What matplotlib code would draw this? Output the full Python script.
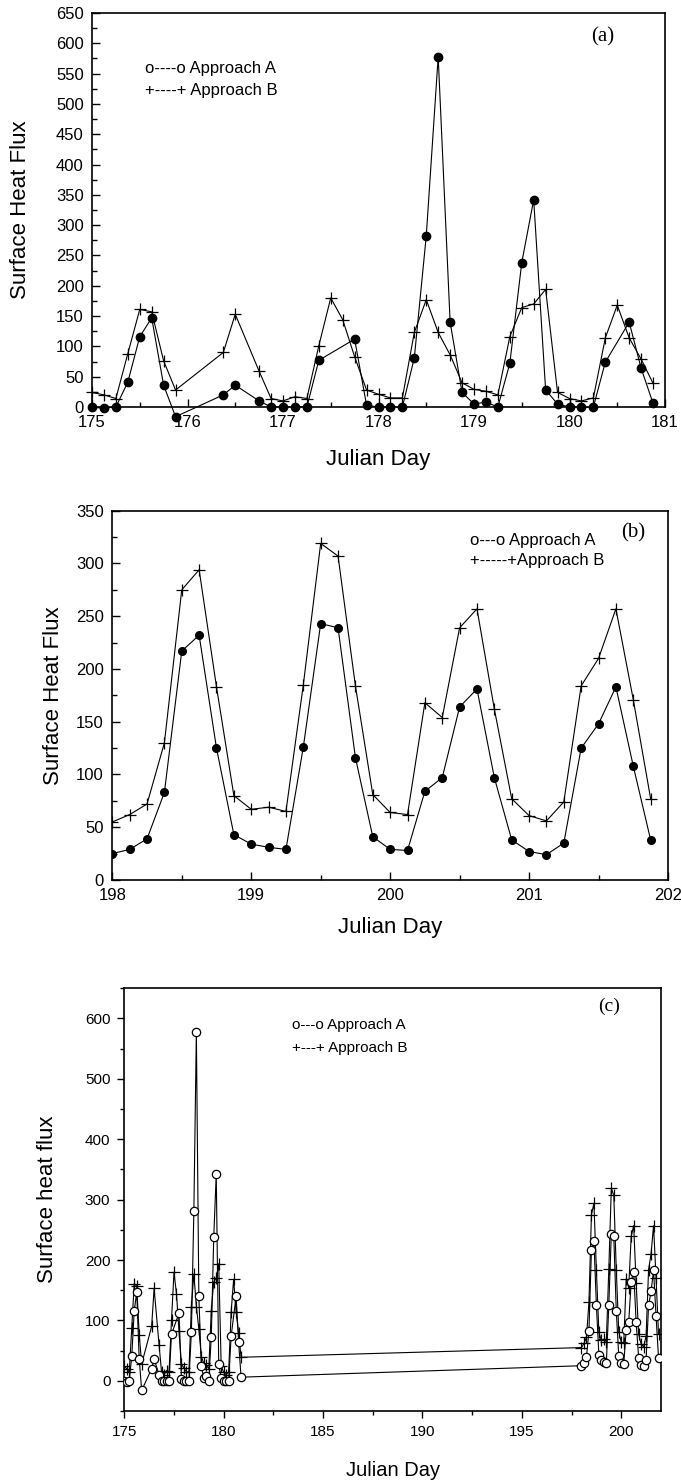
import matplotlib
matplotlib.use("Agg")
import matplotlib.pyplot as plt
from matplotlib.ticker import MultipleLocator

plt.rcParams['font.family'] = ['Liberation Sans', 'DejaVu Sans']

# ---------------- data ----------------
# Panel (a): Julian days 175-181
a_days_A = [175.0, 175.125, 175.25, 175.375, 175.5, 175.625, 175.75, 175.875,
            176.375, 176.5, 176.75, 176.875, 177.0, 177.125, 177.25, 177.375,
            177.75, 177.875, 178.0, 178.125, 178.25, 178.375, 178.5, 178.625,
            178.75, 178.875, 179.0, 179.125, 179.25, 179.375, 179.5, 179.625,
            179.75, 179.875, 180.0, 180.125, 180.25, 180.375, 180.625, 180.75,
            180.875]
a_flux_A = [0, -2, 0, 41, 116, 147, 36, -16,
            20, 36, 10, 0, 0, 0, 0, 77,
            112, 3, 0, 0, 0, 81, 282, 578,
            140, 24, 5, 8, 0, 72, 238, 342,
            28, 5, 0, 0, 0, 74, 140, 64,
            6]
a_days_B = [175.0, 175.125, 175.25, 175.375, 175.5, 175.625, 175.75, 175.875,
            176.375, 176.5, 176.75, 176.875, 177.0, 177.125, 177.25, 177.375,
            177.5, 177.625, 177.75, 177.875, 178.0, 178.125, 178.25, 178.375,
            178.5, 178.625, 178.75, 178.875, 179.0, 179.125, 179.25, 179.375,
            179.5, 179.625, 179.75, 179.875, 180.0, 180.125, 180.25, 180.375,
            180.5, 180.625, 180.75, 180.875]
a_flux_B = [24, 20, 14, 88, 161, 157, 76, 28,
            90, 153, 59, 14, 10, 17, 14, 101,
            180, 144, 83, 28, 21, 15, 15, 123,
            177, 123, 86, 40, 29, 26, 20, 116,
            164, 170, 194, 24, 14, 10, 15, 114,
            168, 114, 79, 39]

# Panel (b): Julian days 198-202
b_days = [198.0, 198.125, 198.25, 198.375, 198.5, 198.625, 198.75, 198.875,
          199.0, 199.125, 199.25, 199.375, 199.5, 199.625, 199.75, 199.875,
          200.0, 200.125, 200.25, 200.375, 200.5, 200.625, 200.75, 200.875,
          201.0, 201.125, 201.25, 201.375, 201.5, 201.625, 201.75, 201.875]
b_flux_A = [25, 29, 39, 83, 217, 232, 125, 43,
            34, 31, 29, 126, 243, 239, 116, 41,
            29, 28, 84, 97, 164, 181, 97, 38,
            27, 24, 35, 125, 148, 183, 108, 38]
b_flux_B = [55, 62, 72, 130, 275, 294, 183, 80,
            67, 69, 65, 185, 319, 307, 184, 81,
            64, 62, 168, 154, 239, 257, 162, 77,
            61, 56, 74, 184, 210, 257, 171, 77]

# Panel (c): both periods joined
c_days_A = a_days_A + b_days
c_flux_A = a_flux_A + b_flux_A
c_days_B = a_days_B + b_days
c_flux_B = a_flux_B + b_flux_B

legend_A = "Approach A"
legend_B = "Approach B"

# ---------------- figure ----------------
W, H = 681, 1483
fig = plt.figure(figsize=(W / 100, H / 100), dpi=100)


def rect(l, t, r, b):
    return [l / W, 1 - b / H, (r - l) / W, (b - t) / H]


def ftext(px, py, s, **kw):
    fig.text(px / W, 1 - py / H, s, **kw)


def style(ax, direction, lsize, pad, mlen, nlen):
    for sp in ax.spines.values():
        sp.set_linewidth(1.2)
    ax.tick_params(which='both', direction=direction, top=False, right=False,
                   labelsize=lsize, pad=pad, width=1.0)
    ax.tick_params(which='major', length=mlen)
    ax.tick_params(which='minor', length=nlen)


line_kw = dict(color='black', lw=0.8)

# ----- panel (a) -----
axa = fig.add_axes(rect(92, 13, 665, 407))
axa.plot(a_days_B, a_flux_B, marker='+', ms=8, mew=0.9, clip_on=False, **line_kw)
axa.plot(a_days_A, a_flux_A, marker='o', ms=6, mfc='black', mec='black',
         clip_on=False, zorder=3, **line_kw)
axa.set_xlim(175, 181)
axa.set_ylim(0, 650)
axa.xaxis.set_major_locator(MultipleLocator(1))
axa.xaxis.set_minor_locator(MultipleLocator(0.5))
axa.yaxis.set_major_locator(MultipleLocator(50))
axa.yaxis.set_minor_locator(MultipleLocator(25))
style(axa, 'in', 12, 6, 6, 3.5)
axa.set_xlabel("Julian Day", fontsize=16)
axa.set_ylabel("Surface Heat Flux", fontsize=16)
axa.xaxis.set_label_coords((378 - 92) / 573, (407 - 460) / 394)
axa.xaxis.label.set_va('center')
axa.yaxis.set_label_coords((21 - 92) / 573, 0.5)
axa.yaxis.label.set_va('center')
ftext(145, 68, "o----o " + legend_A, fontsize=12, va='center')
ftext(145, 91, "+----+ " + legend_B, fontsize=12, va='center')
ftext(603, 37, "(a)", fontsize=15, ha='center', va='center',
      family=['Liberation Serif', 'DejaVu Serif'])

# ----- panel (b) -----
axb = fig.add_axes(rect(112.3, 510.7, 668, 880))
axb.plot(b_days, b_flux_B, marker='+', ms=8, mew=0.9, **line_kw)
axb.plot(b_days, b_flux_A, marker='o', ms=5.5, mfc='black', mec='black',
         zorder=3, **line_kw)
axb.set_xlim(198, 202)
axb.set_ylim(0, 350)
axb.xaxis.set_major_locator(MultipleLocator(1))
axb.xaxis.set_minor_locator(MultipleLocator(0.5))
axb.yaxis.set_major_locator(MultipleLocator(50))
axb.yaxis.set_minor_locator(MultipleLocator(25))
style(axb, 'in', 12, 6, 6, 3.5)
axb.set_xlabel("Julian Day", fontsize=16)
axb.set_ylabel("Surface Heat Flux", fontsize=16)
axb.xaxis.set_label_coords((390 - 112.3) / 555.7, (880 - 928) / 369.3)
axb.xaxis.label.set_va('center')
axb.yaxis.set_label_coords((54 - 112.3) / 555.7, 0.5)
axb.yaxis.label.set_va('center')
ftext(470, 540, "o---o " + legend_A, fontsize=12, va='center')
ftext(470, 561, "+-----+" + legend_B, fontsize=12, va='center')
ftext(633, 533, "(b)", fontsize=15, ha='center', va='center',
      family=['Liberation Serif', 'DejaVu Serif'])

# ----- panel (c) -----
axc = fig.add_axes(rect(124.3, 988.3, 661, 1411))
axc.plot(c_days_B, c_flux_B, marker='+', ms=8, mew=0.9, **line_kw)
axc.plot(c_days_A, c_flux_A, marker='o', ms=6, mfc='white', mec='black',
         mew=0.9, zorder=3, **line_kw)
axc.set_xlim(175, 202)
axc.set_ylim(-50, 650)
axc.xaxis.set_major_locator(MultipleLocator(5))
axc.xaxis.set_minor_locator(MultipleLocator(2.5))
axc.yaxis.set_major_locator(MultipleLocator(100))
axc.yaxis.set_minor_locator(MultipleLocator(50))
axc.set_yticks([0, 100, 200, 300, 400, 500, 600])
style(axc, 'out', 11, 5, 5, 3)
axc.set_xlabel("Julian Day", fontsize=14.5)
axc.set_ylabel("Surface heat flux", fontsize=16)
axc.xaxis.set_label_coords((392.7 - 124.3) / 536.7, (1411 - 1470) / 422.7)
axc.xaxis.label.set_va('center')
axc.yaxis.set_label_coords((48 - 124.3) / 536.7, 0.5)
axc.yaxis.label.set_va('center')
ftext(292, 1025, "o---o " + legend_A, fontsize=11, va='center')
ftext(292, 1048, "+---+ " + legend_B, fontsize=11, va='center')
ftext(609, 1006, "(c)", fontsize=14, ha='center', va='center',
      family=['Liberation Serif', 'DejaVu Serif'])

fig.savefig("out.png", dpi=100)
